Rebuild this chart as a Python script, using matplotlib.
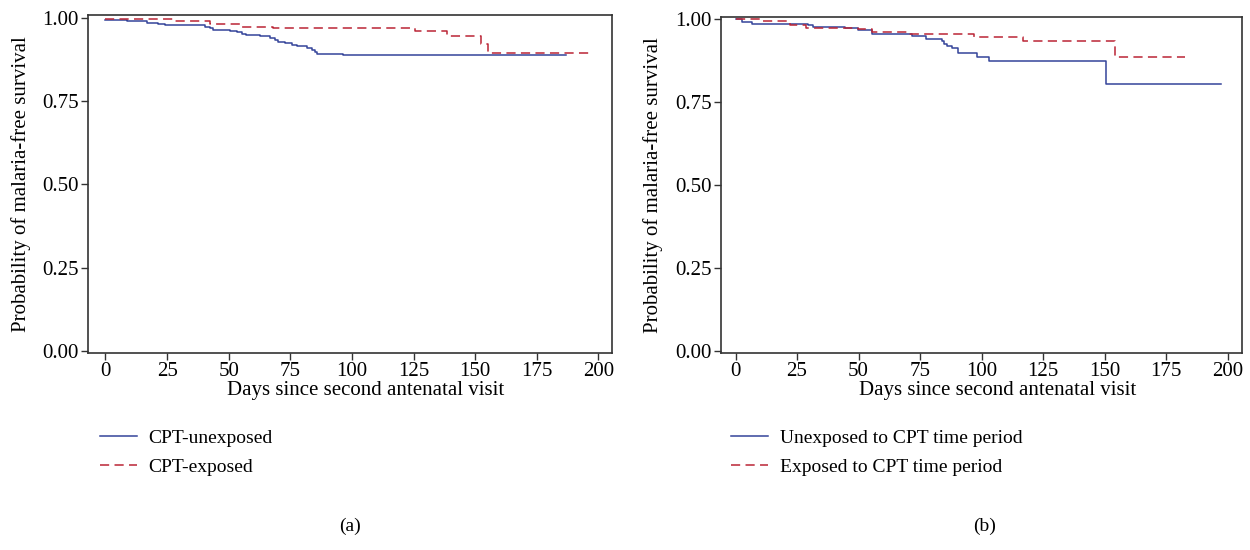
import matplotlib
matplotlib.use("Agg")
import matplotlib.pyplot as plt

# Panel (a): CPT-unexposed vs CPT-exposed
a_unexp_t = [0, 8.9, 16.7, 21.4, 24.1, 40.4, 42.4, 43.7, 50.5, 53.2, 55.2, 57.2,
             62.7, 66.7, 68.6, 70.0, 72.8, 75.5, 77.6, 81.6, 83.7, 85.0, 85.7, 96.5, 186.7]
a_unexp_s = [0.994, 0.990, 0.985, 0.982, 0.978, 0.974, 0.969, 0.964, 0.961, 0.958, 0.953,
             0.948, 0.945, 0.941, 0.934, 0.929, 0.926, 0.920, 0.916, 0.911, 0.904, 0.898,
             0.893, 0.889]
a_exp_t = [0, 27.5, 42.4, 55.1, 68.0, 125.6, 138.6, 152.3, 155.3, 197.9]
a_exp_s = [0.996, 0.990, 0.983, 0.974, 0.969, 0.962, 0.946, 0.923, 0.895]

# Panel (b): unexposed vs exposed time period
b_unexp_t = [0, 2.8, 6.6, 29.6, 31.6, 44.5, 49.9, 55.4, 71.9, 77.4, 83.8, 84.9, 85.8,
             87.9, 90.6, 98.0, 103.0, 150.6, 197.2]
b_unexp_s = [1.0, 0.992, 0.987, 0.982, 0.977, 0.974, 0.967, 0.957, 0.949, 0.940, 0.934,
             0.927, 0.921, 0.914, 0.897, 0.887, 0.874, 0.805]
b_exp_t = [0, 11.3, 20.8, 22.2, 28.5, 49.8, 55.4, 70.5, 96.7, 117.0, 154.3, 182.7]
b_exp_s = [1.0, 0.996, 0.989, 0.982, 0.975, 0.970, 0.962, 0.955, 0.947, 0.934, 0.887]

x_ticks = [0, 25, 50, 75, 100, 125, 150, 175, 200]
y_ticks = [0.00, 0.25, 0.50, 0.75, 1.00]
x_label = "Days since second antenatal visit"
y_label = "Probability of malaria-free survival"
labels_a = ["CPT-unexposed", "CPT-exposed"]
labels_b = ["Unexposed to CPT time period", "Exposed to CPT time period"]

plt.rcParams['font.family'] = ['Liberation Serif', 'DejaVu Serif']
BLUE = "#34449a"
RED = "#bb2535"
W, H = 1250, 550

fig = plt.figure(figsize=(12.5, 5.5), dpi=100)


def panel(box, xlim, ylim, unexp_t, unexp_s, exp_t, exp_s, labels, leg_x, tag, tag_x, ylab_x):
    l, r, t, b = box
    ax = fig.add_axes([l / W, 1 - b / H, (r - l) / W, (b - t) / H])
    h1, = ax.step(unexp_t, unexp_s + [unexp_s[-1]], where='post', color=BLUE, lw=1.1)
    h2, = ax.step(exp_t, exp_s + [exp_s[-1]], where='post', color=RED, lw=1.1,
                  linestyle=(0, (6, 3.5)))
    ax.set_xlim(*xlim)
    ax.set_ylim(*ylim)
    ax.set_xticks(x_ticks)
    ax.set_yticks(y_ticks)
    ax.set_yticklabels([f"{v:.2f}" for v in y_ticks])
    ax.tick_params(direction='out', length=5, width=1, color='#333333',
                   labelsize=15, pad=1.5)
    for s in ax.spines.values():
        s.set_color('#333333')
        s.set_linewidth(1.2)
    ax.set_xlabel(x_label, fontsize=15, labelpad=0)
    ax.xaxis.label.set_x(0.53)
    ax.set_ylabel(y_label, fontsize=15)
    ax.yaxis.set_label_coords(ylab_x, 0.5)
    fig.legend([h1, h2], labels, loc='upper left', bbox_to_anchor=(leg_x / W, 1 - 429 / H),
               frameon=False, fontsize=14, handlelength=1.9, handletextpad=0.6,
               labelspacing=0.62, borderpad=0, borderaxespad=0)
    fig.text(tag_x / W, 1 - 526 / H, tag, fontsize=14, ha='center', va='center')
    return ax


panel((88, 612, 15, 353), (-7.1, 205.5), (-0.006, 1.009),
      a_unexp_t, a_unexp_s, a_exp_t, a_exp_s, labels_a, 100, "(a)", 350, -0.108)
panel((721, 1242, 17, 353), (-5.9, 205.8), (-0.006, 1.007),
      b_unexp_t, b_unexp_s, b_exp_t, b_exp_s, labels_b, 731, "(b)", 985, -0.111)

fig.savefig("out.png", dpi=100)
